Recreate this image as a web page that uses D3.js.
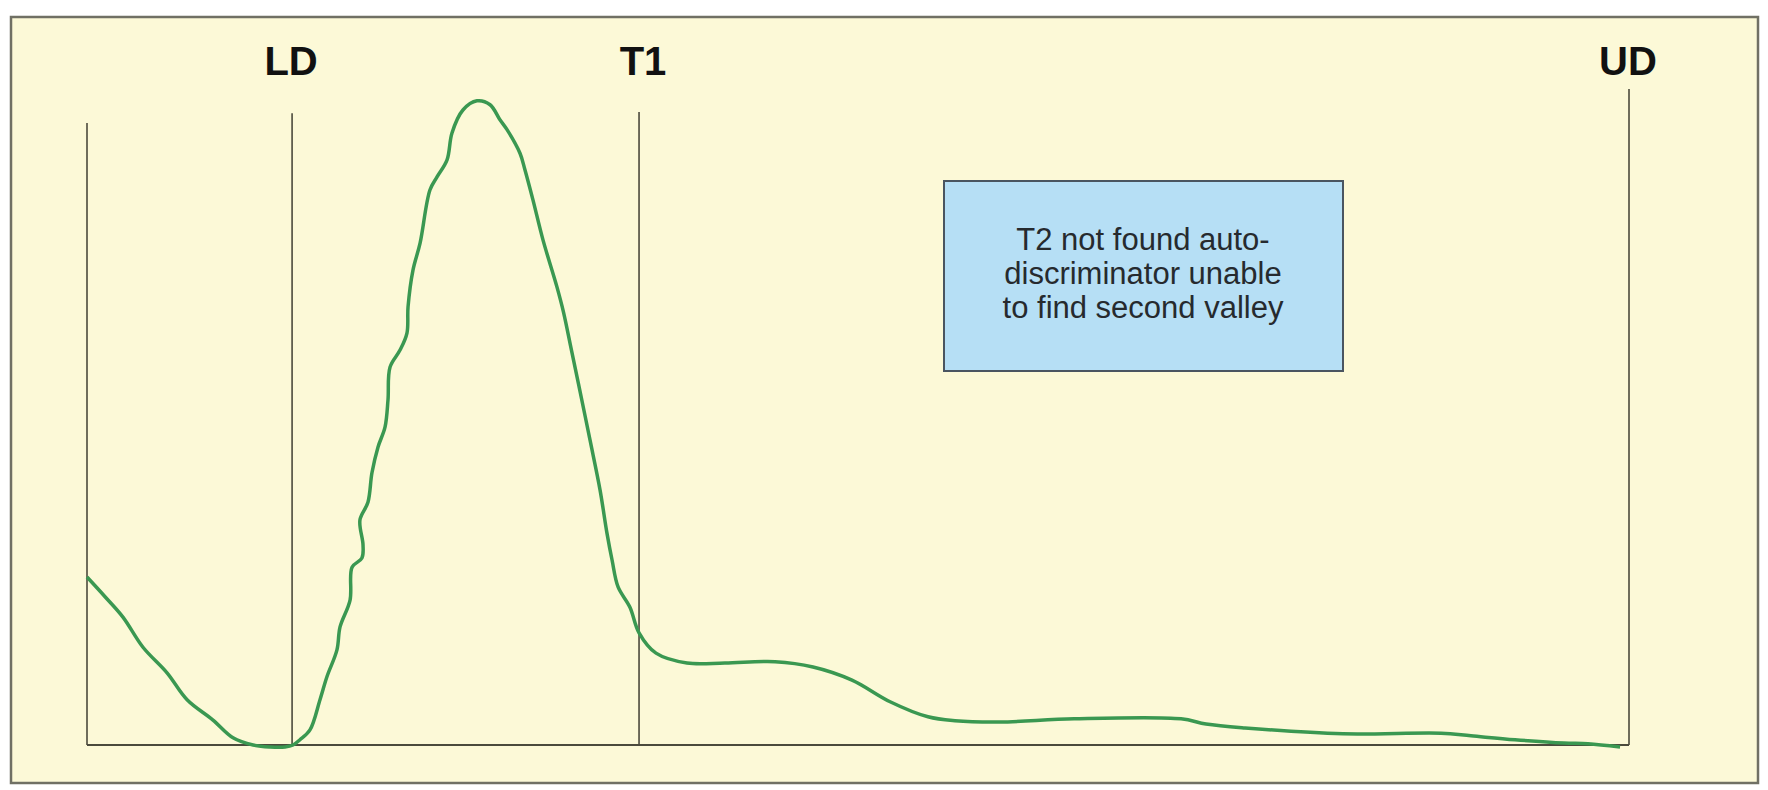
<!DOCTYPE html>
<html>
<head>
<meta charset="utf-8">
<script src="https://cdn.jsdelivr.net/npm/d3@7"></script>
<style>
  body { margin: 0; background: #ffffff; }
  svg { display: block; }
</style>
</head>
<body>
<div id="chart"></div>
<script>
// histogram trace (channel, count)
var channels = [0, 11.7, 23.3, 36.3, 51.9, 64.9, 81.7, 94.7, 107.7, 118.7, 128.4, 133.6, 138.1, 144.6,
  151.1, 155.6, 162.1, 164.1, 170.6, 171.9, 178.3, 179.0, 177.0, 182.2, 184.8, 188.7, 193.3, 195.2,
  196.5, 203.0, 207.5, 208.2, 211.4, 216.0, 222.4, 227.0, 233.5, 236.7, 243.8, 252.9, 261.4, 267.8,
  272.4, 280.8, 284.0, 289.2, 295.7, 304.8, 309.0, 314.0, 318.6, 326.2, 332.7, 337.2, 340.5, 344.4,
  352.1, 358.0, 369.0, 389.1, 413.7, 446.2, 470.8, 496.1, 520.8, 545.4, 562.9, 592.1, 640.1, 709.5,
  725.7, 751.0, 814.5, 878.1, 897.5, 926.1, 957.8, 973.4, 994.2];
var counts = [256, 226, 195, 149, 110, 69, 38, 11, 0, -3, -3, 0, 8, 23,
  69, 104, 145, 180, 221, 271, 285, 305, 343, 370, 415, 454, 485, 526,
  576, 602, 628, 668, 724, 765, 846, 866, 892, 933, 968, 982, 976, 953,
  938, 902, 877, 831, 770, 698, 660, 604, 552, 465, 389, 323, 282, 241,
  210, 171, 140, 125, 125, 127, 119, 99, 66, 43, 37, 35, 40, 40,
  32, 26, 17, 18, 14, 8, 3, 2, -3];

// discriminator markers
var markerNames = ["LD", "T1", "UD"];
var markerChannels = [133, 358, 1000];
var markerTops = [963, 965, 1000];
var axisTop = 948;

var noteLines = ["T2 not found auto-", "discriminator unable", "to find second valley"];

var svgWidth = 1768;
var svgHeight = 790;

var svg = d3.select("#chart")
  .append("svg")
  .attr("width", svgWidth)
  .attr("height", svgHeight);

// frame
svg.append("rect")
  .attr("x", 11)
  .attr("y", 17)
  .attr("width", 1747)
  .attr("height", 766)
  .attr("fill", "#fcf9d7")
  .attr("stroke", "#707064")
  .attr("stroke-width", 2.5);

var xScale = d3.scaleLinear()
  .domain([0, 1000])
  .range([87, 1629]);

var yScale = d3.scaleLinear()
  .domain([0, 1000])
  .range([745, 89]);

var lineColor = "#4b4a3c";

// axes
svg.append("line")
  .attr("x1", xScale(0)).attr("x2", xScale(0))
  .attr("y1", yScale(0)).attr("y2", yScale(axisTop))
  .attr("stroke", lineColor).attr("stroke-width", 1.6);

svg.append("line")
  .attr("x1", xScale(0)).attr("x2", xScale(1000))
  .attr("y1", yScale(0)).attr("y2", yScale(0))
  .attr("stroke", lineColor).attr("stroke-width", 1.8);

// marker lines + labels
var markers = markerNames.map((n, i) => ({name: n, ch: markerChannels[i], top: markerTops[i]}));

svg.append("g").selectAll("line")
  .data(markers)
  .enter()
  .append("line")
  .attr("x1", d => xScale(d.ch)).attr("x2", d => xScale(d.ch))
  .attr("y1", yScale(0)).attr("y2", d => yScale(d.top))
  .attr("stroke", lineColor).attr("stroke-width", 1.6);

svg.append("g").selectAll("text")
  .data(markers)
  .enter()
  .append("text")
  .attr("x", d => xScale(d.ch) + (d.name == "T1" ? 4 : -1))
  .attr("y", 75)
  .attr("text-anchor", "middle")
  .attr("font-family", "Liberation Sans, Arial, sans-serif")
  .attr("font-weight", "bold")
  .attr("font-size", 40)
  .attr("fill", "#111111")
  .text(d => d.name);

// curve
var pts = channels.map((c, i) => [c, counts[i]]);
var line = d3.line()
  .x(d => xScale(d[0]))
  .y(d => yScale(d[1]))
  .curve(d3.curveCatmullRom.alpha(0.5));

svg.append("path")
  .datum(pts)
  .attr("d", line)
  .attr("fill", "none")
  .attr("stroke", "#3a9851")
  .attr("stroke-width", 3.5)
  .attr("stroke-linejoin", "round");

// note box
svg.append("rect")
  .attr("x", 944)
  .attr("y", 181)
  .attr("width", 399)
  .attr("height", 190)
  .attr("fill", "#b6dff5")
  .attr("stroke", "#4a5560")
  .attr("stroke-width", 2);

svg.append("g").selectAll("text")
  .data(noteLines)
  .enter()
  .append("text")
  .attr("x", 1143)
  .attr("y", (d, i) => 250 + i * 34)
  .attr("text-anchor", "middle")
  .attr("font-family", "Liberation Sans, Arial, sans-serif")
  .attr("font-size", 31)
  .attr("fill", "#262a2e")
  .text(d => d);
</script>
</body>
</html>
